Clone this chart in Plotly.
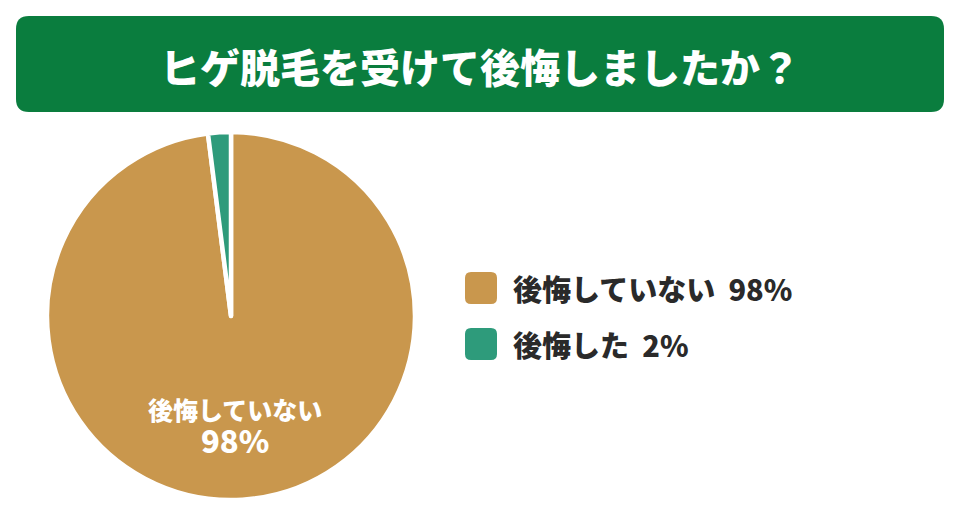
import plotly.graph_objects as go

# data
title_text = "ヒゲ脱毛を受けて後悔しましたか？"
labels = ["後悔していない", "後悔した"]
values = [98, 2]
colors = ["#c9974d", "#2e9b7b"]

# page body has an 8px margin, so draw in a slightly smaller canvas
OFF = 8
W, H = 960 - OFF, 520 - OFF
FONT = "Noto Sans CJK JP"


def px_x(x):
    return (x - OFF) / W


def px_y(y):
    return 1 - (y - OFF) / H


def rounded_rect(x0, y0, x1, y1, r):
    # path in paper coords, corners given in screen pixels (y down)
    rx, ry = r / W, r / H
    a0, a1 = px_x(x0), px_x(x1)
    b0, b1 = px_y(y1), px_y(y0)  # bottom, top
    return (f"M{a0 + rx},{b0} L{a1 - rx},{b0} Q{a1},{b0} {a1},{b0 + ry} "
            f"L{a1},{b1 - ry} Q{a1},{b1} {a1 - rx},{b1} "
            f"L{a0 + rx},{b1} Q{a0},{b1} {a0},{b1 - ry} "
            f"L{a0},{b0 + ry} Q{a0},{b0} {a0 + rx},{b0} Z")


fig = go.Figure()

# pie centre ~ (231, 316), radius ~183
cx, cy, rad = 231, 316, 184
fig.add_trace(go.Pie(
    labels=labels,
    values=values,
    sort=False,
    direction="clockwise",
    rotation=0,
    marker=dict(colors=colors, line=dict(color="white", width=4.5)),
    textinfo="none",
    hoverinfo="label+percent",
    showlegend=False,
    domain=dict(x=[px_x(cx - rad), px_x(cx + rad)],
                y=[px_y(cy + rad), px_y(cy - rad)]),
))

shapes = []
annotations = []

# title banner
shapes.append(dict(type="path", xref="paper", yref="paper",
                   path=rounded_rect(16, 16, 944, 112, 13),
                   fillcolor="#0a7d3e", line=dict(width=0), layer="below"))
annotations.append(dict(x=px_x(480), y=px_y(66), xref="paper", yref="paper",
                        text=title_text, showarrow=False,
                        xanchor="center", yanchor="middle",
                        font=dict(family=FONT, size=40, color="white", weight=900)))

# label inside the big slice (two lines in one text)
annotations.append(dict(x=px_x(235), y=px_y(426), xref="paper", yref="paper",
                        text=f"{labels[0]}<br><span style='font-size:31px'>{values[0]}%</span>",
                        showarrow=False, align="center",
                        xanchor="center", yanchor="middle",
                        font=dict(family=FONT, size=25, color="white", weight=900)))

# custom legend with rounded swatches
legend_rows = [288, 344]
for lab, val, col, yc in zip(labels, values, colors, legend_rows):
    shapes.append(dict(type="path", xref="paper", yref="paper",
                       path=rounded_rect(465, yc - 16, 497, yc + 16, 6),
                       fillcolor=col, line=dict(width=0)))
    annotations.append(dict(x=px_x(511), y=px_y(yc), xref="paper", yref="paper",
                            text=f"{lab}\u00a0\u00a0{val}%", showarrow=False,
                            xanchor="left", yanchor="middle",
                            font=dict(family=FONT, size=29, color="#2a2a2a", weight=900)))

fig.update_layout(
    width=W, height=H,
    margin=dict(l=0, r=0, t=0, b=0),
    paper_bgcolor="white",
    plot_bgcolor="white",
    shapes=shapes,
    annotations=annotations,
)

fig.write_html("out.html")
